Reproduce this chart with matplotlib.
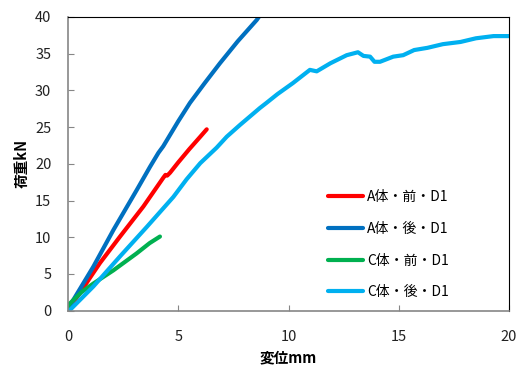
import matplotlib
matplotlib.use("Agg")
import matplotlib.pyplot as plt

plt.rcParams['font.family'] = ['Noto Sans CJK JP', 'DejaVu Sans']

# Data
a_front_x = [0, 0.1, 0.54, 1.0, 1.45, 2.36, 3.42, 4.32, 4.42, 4.5, 4.63, 5.0, 5.5, 6.0, 6.29]
a_front_y = [0, 0.5, 2.4, 4.5, 6.5, 10.1, 14.2, 18.1, 18.5, 18.4, 18.8, 20.2, 22.0, 23.7, 24.7]

a_back_x = [0, 0.24, 1.15, 2.06, 3.11, 3.72, 4.1, 4.32, 5.0, 5.53, 6.2, 6.89, 7.7, 8.56, 8.7]
a_back_y = [0, 1.46, 6.0, 11.0, 16.4, 19.6, 21.5, 22.4, 25.8, 28.3, 31.0, 33.7, 36.7, 39.6, 40.2]

c_front_x = [0, 0.09, 0.6, 1.15, 2.06, 3.11, 3.7, 4.17]
c_front_y = [0.5, 1.0, 2.5, 3.7, 5.5, 7.8, 9.2, 10.1]

c_back_x = [0, 0.09, 1.15, 2.36, 3.57, 4.78, 5.38, 6.0, 6.74, 7.2, 7.8, 8.7, 9.0, 9.5, 10.2, 10.97, 11.28,
            11.9, 12.64, 13.15, 13.4, 13.7, 13.9, 14.15, 14.75, 15.2, 15.7, 16.3, 17.0, 17.8, 18.5, 19.3, 20.0]
c_back_y = [0, 0.1, 3.3, 7.4, 11.4, 15.5, 17.9, 20.1, 22.2, 23.7, 25.3, 27.6, 28.3, 29.5, 31.0, 32.8, 32.6,
            33.7, 34.8, 35.2, 34.7, 34.6, 33.9, 33.9, 34.6, 34.8, 35.5, 35.8, 36.3, 36.6, 37.1, 37.4, 37.4]

labels = ['A体・前・D1', 'A体・後・D1', 'C体・前・D1', 'C体・後・D1']
colors = ['#FF0000', '#0070C0', '#00B050', '#00B0F0']
x_ticks = [0, 5, 10, 15, 20]
y_ticks = [0, 5, 10, 15, 20, 25, 30, 35, 40]

fig = plt.figure(figsize=(5.19, 3.70), dpi=100)
ax = fig.add_axes([68/519, 1 - 310.7/370, (509-68)/519, (310.7-17)/370])

series = [(a_front_x, a_front_y), (a_back_x, a_back_y), (c_front_x, c_front_y), (c_back_x, c_back_y)]
for (xs, ys), lab, col in zip(series, labels, colors):
    ax.plot(xs, ys, color=col, lw=3.0, label=lab, solid_capstyle='round', solid_joinstyle='round')

ax.set_xlim(0, 20)
ax.set_ylim(0, 40)
ax.set_xticks(x_ticks)
ax.set_yticks(y_ticks)
ax.tick_params(axis='x', direction='in', length=4, color='#868686', labelsize=10.5, pad=14)
ax.tick_params(axis='y', direction='in', length=4, color='#868686', labelsize=10.5, pad=12)
for lab in ax.get_xticklabels() + ax.get_yticklabels():
    lab.set_color('#222222')

ax.spines['left'].set_color('#868686')
ax.spines['bottom'].set_color('#868686')
ax.spines['left'].set_linewidth(1.2)
ax.spines['bottom'].set_linewidth(1.2)
ax.spines['top'].set_color('black')
ax.spines['right'].set_color('black')
ax.spines['top'].set_linewidth(0.8)
ax.spines['right'].set_linewidth(0.8)

ax.set_xlabel('変位mm', fontsize=10.5, fontweight='bold', labelpad=4)
ax.set_ylabel('荷重kN', fontsize=10.5, fontweight='bold', labelpad=4)

leg = ax.legend(loc='upper left', bbox_to_anchor=(0.577, 0.43), frameon=False, fontsize=10,
                handlelength=2.5, handletextpad=0.3, labelspacing=1.28, borderaxespad=0)

fig.savefig('out.png', dpi=100)
